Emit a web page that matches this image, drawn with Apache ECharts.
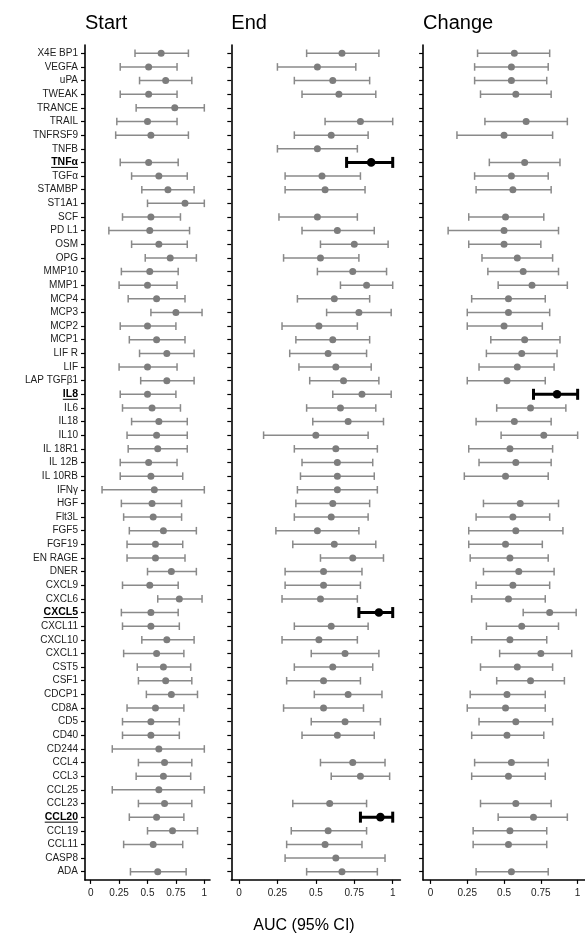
<!DOCTYPE html>
<html>
<head>
<meta charset="utf-8">
<script src="https://cdn.jsdelivr.net/npm/echarts@6/dist/echarts.min.js"></script>
<style>
  html, body { margin: 0; padding: 0; background: #fff; }
  #chart { width: 585px; height: 939px; }
</style>
</head>
<body>
<div id="chart"></div>
<script>
// Proteins, top to bottom
const proteins = [
  'X4E BP1', 'VEGFA', 'uPA', 'TWEAK', 'TRANCE', 'TRAIL', 'TNFRSF9', 'TNFB', 'TNFα', 'TGFα',
  'STAMBP', 'ST1A1', 'SCF', 'PD L1', 'OSM', 'OPG', 'MMP10', 'MMP1', 'MCP4', 'MCP3',
  'MCP2', 'MCP1', 'LIF R', 'LIF', 'LAP TGFβ1', 'IL8', 'IL6', 'IL18', 'IL10', 'IL 18R1',
  'IL 12B', 'IL 10RB', 'IFNγ', 'HGF', 'Flt3L', 'FGF5', 'FGF19', 'EN RAGE', 'DNER', 'CXCL9',
  'CXCL6', 'CXCL5', 'CXCL11', 'CXCL10', 'CXCL1', 'CST5', 'CSF1', 'CDCP1', 'CD8A', 'CD5',
  'CD40', 'CD244', 'CCL4', 'CCL3', 'CCL25', 'CCL23', 'CCL20', 'CCL19', 'CCL11', 'CASP8',
  'ADA'
];

// AUC with 95% CI at start of treatment (null = not estimated)
const startAuc = [
  0.62, 0.51, 0.66, 0.51, 0.74, 0.50, 0.53, null, 0.51, 0.60,
  0.68, 0.83, 0.53, 0.52, 0.60, 0.70, 0.52, 0.50, 0.58, 0.75,
  0.50, 0.58, 0.67, 0.50, 0.67, 0.50, 0.54, 0.60, 0.58, 0.59,
  0.51, 0.53, 0.56, 0.54, 0.55, 0.64, 0.57, 0.57, 0.71, 0.52,
  0.78, 0.53, 0.53, 0.67, 0.58, 0.64, 0.66, 0.71, 0.57, 0.53,
  0.53, 0.60, 0.65, 0.64, 0.60, 0.65, 0.58, 0.72, 0.55, null,
  0.59
];
const startLow = [
  0.39, 0.26, 0.43, 0.26, 0.40, 0.23, 0.22, null, 0.26, 0.36,
  0.45, 0.50, 0.28, 0.16, 0.36, 0.48, 0.27, 0.25, 0.33, 0.53,
  0.26, 0.34, 0.43, 0.25, 0.44, 0.26, 0.28, 0.36, 0.32, 0.33,
  0.26, 0.26, 0.10, 0.27, 0.29, 0.34, 0.32, 0.32, 0.50, 0.28,
  0.59, 0.27, 0.28, 0.45, 0.29, 0.41, 0.42, 0.49, 0.32, 0.28,
  0.28, 0.19, 0.42, 0.40, 0.19, 0.42, 0.34, 0.50, 0.29, null,
  0.35
];
const startHigh = [
  0.86, 0.76, 0.89, 0.76, 1.00, 0.76, 0.86, null, 0.77, 0.85,
  0.91, 1.00, 0.79, 0.87, 0.85, 0.93, 0.77, 0.76, 0.83, 0.98,
  0.75, 0.83, 0.91, 0.76, 0.91, 0.75, 0.79, 0.85, 0.85, 0.85,
  0.76, 0.81, 1.00, 0.80, 0.80, 0.93, 0.81, 0.83, 0.93, 0.77,
  0.98, 0.77, 0.78, 0.91, 0.82, 0.88, 0.89, 0.94, 0.82, 0.78,
  0.78, 1.00, 0.89, 0.88, 1.00, 0.89, 0.82, 0.94, 0.81, null,
  0.84
];

// AUC with 95% CI at end of treatment
const endAuc = [
  0.67, 0.51, 0.61, 0.65, null, 0.79, 0.60, 0.51, 0.86, 0.54,
  0.56, null, 0.51, 0.64, 0.75, 0.53, 0.74, 0.83, 0.62, 0.78,
  0.52, 0.61, 0.58, 0.63, 0.68, 0.80, 0.66, 0.71, 0.50, 0.63,
  0.64, 0.64, 0.64, 0.61, 0.60, 0.51, 0.62, 0.74, 0.55, 0.55,
  0.53, 0.91, 0.60, 0.52, 0.69, 0.61, 0.55, 0.71, 0.55, 0.69,
  0.64, null, 0.74, 0.79, null, 0.59, 0.92, 0.58, 0.56, 0.63,
  0.67
];
const endLow = [
  0.44, 0.25, 0.36, 0.41, null, 0.56, 0.36, 0.25, 0.70, 0.30,
  0.30, null, 0.26, 0.41, 0.53, 0.29, 0.51, 0.66, 0.38, 0.57,
  0.28, 0.37, 0.33, 0.39, 0.46, 0.61, 0.44, 0.48, 0.16, 0.36,
  0.41, 0.40, 0.38, 0.37, 0.36, 0.24, 0.35, 0.53, 0.30, 0.30,
  0.28, 0.78, 0.36, 0.28, 0.47, 0.36, 0.31, 0.49, 0.29, 0.47,
  0.41, null, 0.53, 0.60, null, 0.35, 0.79, 0.34, 0.31, 0.30,
  0.44
];
const endHigh = [
  0.91, 0.76, 0.85, 0.89, null, 1.00, 0.84, 0.77, 1.00, 0.79,
  0.82, null, 0.77, 0.88, 0.97, 0.78, 0.96, 1.00, 0.85, 0.99,
  0.77, 0.85, 0.83, 0.86, 0.91, 0.99, 0.89, 0.94, 0.84, 0.90,
  0.87, 0.88, 0.90, 0.85, 0.84, 0.78, 0.89, 0.94, 0.80, 0.79,
  0.77, 1.00, 0.84, 0.77, 0.91, 0.87, 0.79, 0.93, 0.81, 0.92,
  0.88, null, 0.95, 0.98, null, 0.83, 1.00, 0.83, 0.80, 0.95,
  0.90
];

// AUC with 95% CI for the change between start and end
const changeAuc = [
  0.57, 0.55, 0.55, 0.58, null, 0.65, 0.50, null, 0.64, 0.55,
  0.56, null, 0.51, 0.50, 0.50, 0.59, 0.63, 0.69, 0.53, 0.53,
  0.50, 0.64, 0.62, 0.59, 0.52, 0.86, 0.68, 0.57, 0.77, 0.54,
  0.58, 0.51, null, 0.61, 0.56, 0.58, 0.51, 0.54, 0.60, 0.56,
  0.53, 0.81, 0.62, 0.54, 0.75, 0.59, 0.68, 0.52, 0.51, 0.58,
  0.52, null, 0.55, 0.53, null, 0.58, 0.70, 0.54, 0.53, null,
  0.55
];
const changeLow = [
  0.32, 0.30, 0.30, 0.34, null, 0.37, 0.18, null, 0.40, 0.30,
  0.31, null, 0.26, 0.12, 0.26, 0.35, 0.39, 0.46, 0.28, 0.25,
  0.25, 0.41, 0.38, 0.33, 0.25, 0.70, 0.45, 0.31, 0.48, 0.26,
  0.33, 0.23, null, 0.36, 0.31, 0.26, 0.26, 0.27, 0.36, 0.31,
  0.28, 0.63, 0.38, 0.28, 0.47, 0.34, 0.45, 0.27, 0.25, 0.33,
  0.28, null, 0.30, 0.28, null, 0.34, 0.46, 0.29, 0.29, null,
  0.31
];
const changeHigh = [
  0.81, 0.80, 0.79, 0.82, null, 0.93, 0.83, null, 0.88, 0.80,
  0.82, null, 0.77, 0.87, 0.75, 0.83, 0.87, 0.93, 0.78, 0.81,
  0.76, 0.88, 0.86, 0.84, 0.78, 1.00, 0.92, 0.82, 1.00, 0.83,
  0.82, 0.80, null, 0.87, 0.81, 0.90, 0.76, 0.80, 0.84, 0.81,
  0.78, 0.99, 0.87, 0.79, 0.96, 0.83, 0.91, 0.78, 0.78, 0.83,
  0.77, null, 0.80, 0.78, null, 0.82, 0.93, 0.79, 0.79, null,
  0.80
];

// Proteins flagged as significant in each panel
const endHighlight = ['TNFα', 'CXCL5', 'CCL20'];
const changeHighlight = ['IL8'];
const boldLabels = ['TNFα', 'IL8', 'CXCL5', 'CCL20'];

const panelTitles = ['Start', 'End', 'Change'];
const xTickValues = [0, 0.25, 0.5, 0.75, 1];
const xTickLabels = ['0', '0.25', '0.5', '0.75', '1'];
const xTitle = 'AUC (95% CI)';

// ---------------------------------------------------------------------------

const rows = proteins.map((_, i) => i);
const font = 'Liberation Sans, Arial, sans-serif';

// small image that draws a 1px line at the bottom of a text box (underline)
function underlineImage(h) {
  const c = document.createElement('canvas');
  c.width = 4; c.height = h;
  const ctx = c.getContext('2d');
  ctx.fillStyle = '#000';
  ctx.fillRect(0, h - 2, 4, 1);
  return c;
}

function buildSeriesData(auc, low, high, highlight) {
  const out = [];
  for (let i = 0; i < proteins.length; i++) {
    if (auc[i] == null) continue;
    out.push([auc[i], i, low[i], high[i], highlight.includes(proteins[i]) ? 1 : 0]);
  }
  return out;
}

function renderInterval(params, api) {
  const auc = api.value(0), row = api.value(1);
  const lo = api.value(2), hi = api.value(3), hl = api.value(4);
  const pLo = api.coord([lo, row]);
  const pHi = api.coord([hi, row]);
  const pPt = api.coord([auc, row]);
  const color = hl ? '#000000' : '#8a8a8a';
  const lw = hl ? 3 : 1.5;
  const cap = hl ? 5.5 : 3.8;
  const r = hl ? 4.3 : 3.5;
  return {
    type: 'group',
    children: [
      { type: 'line', shape: { x1: pLo[0], y1: pLo[1], x2: pHi[0], y2: pHi[1] },
        style: { stroke: color, lineWidth: lw } },
      { type: 'line', shape: { x1: pLo[0], y1: pLo[1] - cap, x2: pLo[0], y2: pLo[1] + cap },
        style: { stroke: color, lineWidth: lw } },
      { type: 'line', shape: { x1: pHi[0], y1: pHi[1] - cap, x2: pHi[0], y2: pHi[1] + cap },
        style: { stroke: color, lineWidth: lw } },
      { type: 'circle', shape: { cx: pPt[0], cy: pPt[1], r: r },
        style: { fill: hl ? '#000000' : '#7d7d7d' } }
    ]
  };
}

// panel geometry (px)
const grids = [
  { left: 85, top: 45.1, width: 125, height: 834.8 },
  { left: 231.3, top: 45.1, width: 169.1, height: 834.8 },
  { left: 423.1, top: 45.1, width: 168, height: 834.8 }
];

const xAxes = grids.map((_, k) => ({
  type: 'value', gridIndex: k, min: -0.05, max: 1.05, position: 'bottom',
  splitLine: { show: false },
  axisLine: { show: true, onZero: false, lineStyle: { color: '#000', width: 1.6 } },
  axisTick: { show: true, length: 4, customValues: xTickValues, lineStyle: { color: '#000', width: 1.2 } },
  axisLabel: {
    show: true, customValues: xTickValues, margin: 8,
    fontSize: 10, color: '#222', fontFamily: font,
    formatter: v => xTickLabels[xTickValues.indexOf(+v.toFixed(2))]
  }
}));

const ul = underlineImage(13);
const yAxes = grids.map((_, k) => ({
  type: 'value', gridIndex: k, min: -0.6, max: proteins.length - 0.4, inverse: true,
  splitLine: { show: false },
  axisLine: { show: true, onZero: false, lineStyle: { color: '#000', width: 1.6 } },
  axisTick: { show: true, length: 4, customValues: rows, lineStyle: { color: '#000', width: 1.2 } },
  axisLabel: {
    show: k === 0, customValues: rows, margin: 7,
    fontSize: 10, color: '#222', fontFamily: font,
    formatter: v => {
      const name = proteins[Math.round(v)];
      return boldLabels.includes(name) ? '{u|' + name + '}' : name;
    },
    rich: {
      u: { fontWeight: 'bold', fontSize: 10.5, color: '#000', fontFamily: font,
           height: 13, lineHeight: 13, backgroundColor: { image: ul } }
    }
  }
}));

const panelData = [
  buildSeriesData(startAuc, startLow, startHigh, []),
  buildSeriesData(endAuc, endLow, endHigh, endHighlight),
  buildSeriesData(changeAuc, changeLow, changeHigh, changeHighlight)
];

const option = {
  animation: false,
  backgroundColor: '#fff',
  title: panelTitles.map((t, k) => ({
    text: t, left: grids[k].left, top: 13, padding: 0,
    textStyle: { fontSize: 20, fontWeight: 'normal', color: '#000', fontFamily: font }
  })),
  grid: grids,
  xAxis: xAxes,
  yAxis: yAxes,
  series: panelData.map((d, k) => ({
    type: 'custom', xAxisIndex: k, yAxisIndex: k, clip: false,
    renderItem: renderInterval, data: d, silent: true
  })),
  graphic: [{
    type: 'text', x: 304, y: 926,
    style: { text: xTitle, align: 'center', verticalAlign: 'middle',
             fontSize: 16, fill: '#000', fontFamily: font }
  }]
};

const chart = echarts.init(document.getElementById('chart'), null, { renderer: 'canvas' });
chart.setOption(option);
</script>
</body>
</html>
